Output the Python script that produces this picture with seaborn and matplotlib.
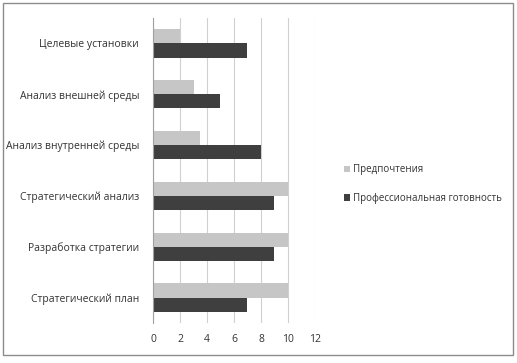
import pandas as pd
import seaborn as sns
import matplotlib.pyplot as plt
from matplotlib.patches import Rectangle

# data
categories = ['Целевые установки', 'Анализ внешней среды', 'Анализ внутренней среды',
              'Стратегический анализ', 'Разработка стратегии', 'Стратегический план']
preferences = [2, 3, 3.5, 10, 10, 10]
readiness = [7, 5, 8, 9, 9, 7]
series = ['Предпочтения', 'Профессиональная готовность']

df = pd.DataFrame({'cat': categories * 2,
                   'val': preferences + readiness,
                   'series': [series[0]] * 6 + [series[1]] * 6})

sns.set_style('white')
plt.rcParams['font.family'] = ['Open Sans', 'DejaVu Sans']

fig = plt.figure(figsize=(5.17, 3.63), dpi=100)
ax = fig.add_axes([153 / 517, 1 - 323 / 363, 162 / 517, 305 / 363])
sns.barplot(data=df, y='cat', x='val', hue='series', orient='h',
            palette=['#c6c6c6', '#3f3f3f'], saturation=1, width=0.56,
            linewidth=0, ax=ax, legend=True)

ax.set_xlim(0, 12)
ax.set_xticks(range(0, 13, 2))
ax.set_ylim(5.5, -0.5)
ax.set_xlabel('')
ax.set_ylabel('')
ax.xaxis.grid(True, color='#d0d0d0', linewidth=0.8)
ax.set_axisbelow(True)
for s in ['top', 'right', 'bottom']:
    ax.spines[s].set_visible(False)
ax.spines['left'].set_color('#a0a0a0')
ax.tick_params(axis='x', length=0, labelsize=7.5, colors='#333333', pad=8)
ax.tick_params(axis='y', which='major', length=0, labelsize=7.5, colors='#333333', pad=10)
ax.set_yticks([i + 0.5 for i in range(-1, 6)], minor=True)
ax.tick_params(axis='y', which='minor', length=4, color='#a0a0a0', direction='out')

h, l = ax.get_legend_handles_labels()
ax.legend(h, l, loc='center left', bbox_to_anchor=(182 / 162, 0.455), frameon=False,
          fontsize=7, handlelength=0.6, handleheight=0.6, handletextpad=0.4,
          labelspacing=1.8, labelcolor='#333333')

fig.patches.append(Rectangle((3 / 517, 1 - 355 / 363), 510 / 517, 352 / 363,
                             transform=fig.transFigure, fill=False,
                             edgecolor='#8c8c8c', linewidth=1))

fig.savefig('out.png', dpi=100)
